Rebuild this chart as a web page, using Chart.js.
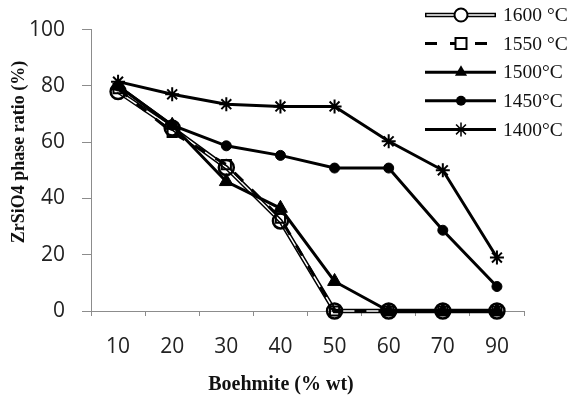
<!DOCTYPE html>
<html>
<head>
<meta charset="utf-8">
<script src="https://cdn.jsdelivr.net/npm/chart.js@4.4.1/dist/chart.umd.min.js"></script>
<style>
html,body{margin:0;padding:0;background:#fff;}
#wrap{width:571px;height:399px;position:relative;}
</style>
</head>
<body>
<div id="wrap"><canvas id="c" width="571" height="399"></canvas></div>
<script>
const categories = ['10','20','30','40','50','60','70','90'];
const seriesNames = ['1600 °C','1550 °C','1500°C','1450°C','1400°C'];
const s1600 = [78, 65, 51, 32, 0, 0, 0, 0];
const s1550 = [79, 63.5, 52, 33, 0, 0, 0, 0];
const s1500 = [80, 66, 46, 36.5, 10.5, 0, 0, 0];
const s1450 = [80, 66, 58.7, 55.3, 50.8, 50.8, 28.7, 8.7];
const s1400 = [81.5, 77, 73.5, 72.7, 72.7, 60.3, 50, 19];
const yTicks = [0, 20, 40, 60, 80, 100];
const xTitle = 'Boehmite (% wt)';
const yTitle = 'ZrSiO4 phase ratio (%)';

const serif = '"Liberation Serif", "Times New Roman", serif';
const sans = '"Open Sans", "Liberation Sans", sans-serif';
const axisGray = '#8c8c8c';

function drawMarker(ctx, type, x, y) {
  ctx.save();
  ctx.lineWidth = 2;
  ctx.strokeStyle = '#000';
  ctx.fillStyle = '#000';
  ctx.beginPath();
  if (type === 'circleOpen') {
    ctx.arc(x, y, 6.5, 0, Math.PI * 2);
    ctx.fillStyle = '#fff'; ctx.fill(); ctx.stroke();
  } else if (type === 'rectOpen') {
    ctx.rect(x - 5.5, y - 5.5, 11, 11);
    ctx.fillStyle = '#fff'; ctx.fill(); ctx.stroke();
  } else if (type === 'triangle') {
    const r = 7;
    ctx.moveTo(x, y - r);
    ctx.lineTo(x + r * 0.866, y + r * 0.5);
    ctx.lineTo(x - r * 0.866, y + r * 0.5);
    ctx.closePath(); ctx.fill();
  } else if (type === 'circle') {
    ctx.arc(x, y, 5, 0, Math.PI * 2); ctx.fill();
  } else if (type === 'star') {
    const r = 7;
    ctx.lineWidth = 1.5;
    ctx.moveTo(x - r, y); ctx.lineTo(x + r, y);
    ctx.moveTo(x, y - r); ctx.lineTo(x, y + r);
    const d = r * 0.7071;
    ctx.moveTo(x - d, y - d); ctx.lineTo(x + d, y + d);
    ctx.moveTo(x - d, y + d); ctx.lineTo(x + d, y - d);
    ctx.stroke();
  }
  ctx.restore();
}

const legendPlugin = {
  id: 'customLegend',
  afterDraw(chart) {
    const ctx = chart.ctx;
    const rows = [
      {t: seriesNames[0], line: 'double', m: 'circleOpen'},
      {t: seriesNames[1], line: 'dash', m: 'rectOpen'},
      {t: seriesNames[2], line: 'solid', m: 'triangle'},
      {t: seriesNames[3], line: 'solid', m: 'circle'},
      {t: seriesNames[4], line: 'solid', m: 'star'}
    ];
    const x0 = 425, x1 = 496, xm = 461, xt = 503;
    rows.forEach((r, i) => {
      const y = 15 + i * 28.6;
      ctx.save();
      ctx.strokeStyle = '#000';
      if (r.line === 'double') {
        ctx.lineWidth = 4.5;
        ctx.beginPath(); ctx.moveTo(x0, y); ctx.lineTo(x1, y); ctx.stroke();
        ctx.strokeStyle = '#fff'; ctx.lineWidth = 1.5;
        ctx.beginPath(); ctx.moveTo(x0 + 1.5, y); ctx.lineTo(x1 - 1.5, y); ctx.stroke();
      } else {
        ctx.lineWidth = 3;
        if (r.line === 'dash') ctx.setLineDash([12, 13]);
        ctx.beginPath(); ctx.moveTo(x0, y); ctx.lineTo(x1, y); ctx.stroke();
      }
      ctx.restore();
      drawMarker(ctx, r.m, xm, y);
      ctx.save();
      ctx.fillStyle = '#111';
      ctx.font = '19.5px ' + serif;
      ctx.textAlign = 'left';
      ctx.textBaseline = 'middle';
      ctx.fillText(r.t, xt, y + 1);
      ctx.restore();
    });
    ctx.save();
    ctx.fillStyle = '#111';
    ctx.font = 'bold 20px ' + serif;
    ctx.textAlign = 'center';
    ctx.textBaseline = 'middle';
    ctx.fillText(xTitle, 281, 385);
    ctx.translate(19, 152);
    ctx.rotate(-Math.PI / 2);
    ctx.font = 'bold 18px ' + serif;
    ctx.fillText(yTitle, 0, 0);
    ctx.restore();
  }
};

function lineDs(data, opts) {
  return Object.assign({
    data: data,
    borderColor: '#000',
    backgroundColor: '#000',
    borderWidth: 3,
    fill: false,
    tension: 0,
    clip: false,
    pointRadius: 0,
    pointHoverRadius: 0
  }, opts);
}

const datasets = [
  lineDs(s1600, {label: 'base1600', borderWidth: 4.5, order: 6}),
  lineDs(s1600, {label: seriesNames[0], borderColor: '#fff', borderWidth: 1.5, order: 5,
    pointStyle: 'circle', pointRadius: 7.5, pointBackgroundColor: 'rgba(255,255,255,0)', pointBorderColor: '#000', pointBorderWidth: 2.5}),
  lineDs(s1550, {label: seriesNames[1], borderDash: [12, 12], order: 4,
    pointStyle: 'rect', pointRadius: 6.5, pointBackgroundColor: 'rgba(255,255,255,0)', pointBorderColor: '#000', pointBorderWidth: 2}),
  lineDs(s1500, {label: seriesNames[2], order: 3,
    pointStyle: 'triangle', pointRadius: 8, pointBackgroundColor: '#000', pointBorderColor: '#000', pointBorderWidth: 1}),
  lineDs(s1450, {label: seriesNames[3], order: 2,
    pointStyle: 'circle', pointRadius: 5, pointBackgroundColor: '#000', pointBorderColor: '#000', pointBorderWidth: 1}),
  lineDs(s1400, {label: seriesNames[4], order: 1,
    pointStyle: 'star', pointRadius: 7, pointBackgroundColor: '#000', pointBorderColor: '#000', pointBorderWidth: 2})
];

new Chart(document.getElementById('c'), {
  type: 'line',
  data: {labels: categories, datasets: datasets},
  options: {
    responsive: false,
    animation: false,
    events: [],
    layout: {padding: {left: 0, right: 47, top: 15, bottom: 0}},
    plugins: {legend: {display: false}, tooltip: {enabled: false}, title: {display: false}},
    scales: {
      x: {
        type: 'category',
        offset: true,
        grid: {offset: true, drawOnChartArea: false, drawTicks: true, tickLength: 5, color: axisGray, lineWidth: 1},
        border: {display: true, color: axisGray, width: 1},
        ticks: {font: {family: sans, size: 21}, color: '#222', padding: 18, maxRotation: 0, autoSkip: false},
        afterFit(s) { s.height = 88; }
      },
      y: {
        min: 0, max: 100,
        afterBuildTicks(s) { s.ticks = yTicks.map(v => ({value: v})); },
        grid: {drawOnChartArea: false, drawTicks: true, tickLength: 9, color: axisGray, lineWidth: 1},
        border: {display: true, color: axisGray, width: 1},
        ticks: {font: {family: sans, size: 21}, color: '#222', padding: 17},
        afterFit(s) { s.width = 91; }
      }
    }
  },
  plugins: [legendPlugin]
});
</script>
</body>
</html>
